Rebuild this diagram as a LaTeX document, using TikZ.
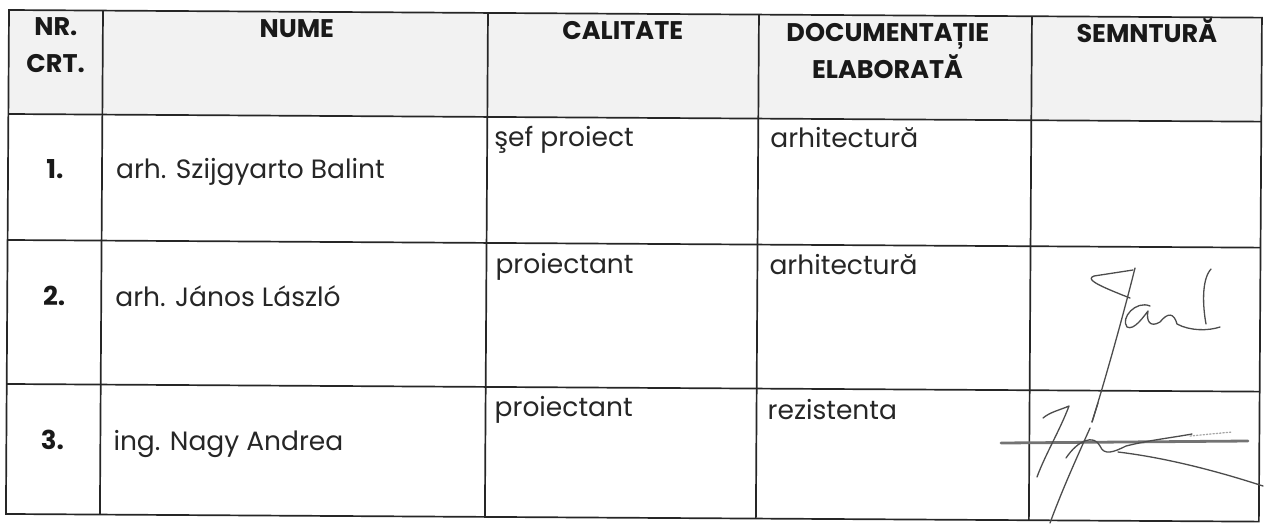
\documentclass[tikz,border=0pt]{standalone}
\usepackage{fontspec}
\setmainfont{Poppins}
\begin{document}
\begin{tikzpicture}[x=1pt,y=-1pt,
  grid/.style={line width=1.7pt, draw=black!85},
  hdr/.style={font=\bfseries\fontsize{25.5}{30}\selectfont, anchor=base, inner sep=0pt, text=black!90},
  cell/.style={font=\fontsize{26.5}{31}\selectfont, anchor=base west, inner sep=0pt, text=black!85},
  num/.style={font=\bfseries\fontsize{26}{31}\selectfont, anchor=base, inner sep=0pt, text=black!90},
  sig/.style={draw=black!70, line width=1.3pt, line cap=round, line join=round},
  strike/.style={draw=black!55, line width=2.8pt, line cap=round}]
\useasboundingbox (0,0) rectangle (1265,523);
\begin{scope}[rotate around={-0.35:(9,10)}]
  \fill[black!5] (9,10) rectangle (1262,114);
  \draw[grid] (9,10) rectangle (1262,514);
  \foreach \y in {114,240,384} \draw[grid] (9,\y) -- (1262,\y);
  \foreach \x in {103,488,759,1032} \draw[grid] (\x,10) -- (\x,514);
  % header
  \node[hdr] (hnr) at (56,35) {NR.};
  \node[hdr] (hcrt) at (56,72) {CRT.};
  \node[hdr] (hnume) at (297,36) {NUME};
  \node[hdr] (hcal) at (623,36) {CALITATE};
  \node[hdr] (hdoc) at (888,36) {DOCUMENTAȚIE};
  \node[hdr] (helab) at (888,73) {ELABORATĂ};
  \node[hdr] (hsemn) at (1147,36) {SEMNTURĂ};
  % rows
  \node[num] (n1) at (56,178) {1.};
  \node[num] (n2) at (56,305) {2.};
  \node[num] (n3) at (55,449) {3.};
  \node[cell] (nm1) at (117,178) {arh. Szijgyarto Balint};
  \node[cell] (nm2) at (117,306) {arh. János László};
  \node[cell] (nm3) at (116,450) {ing. Nagy Andrea};
  \node[cell] (c1) at (495,144) {şef proiect};
  \node[cell] (c2) at (497,271) {proiectant};
  \node[cell] (c3) at (497,414) {proiectant};
  \node[cell] (d1) at (771,143) {arhitectură};
  \node[cell] (d2) at (771,270) {arhitectură};
  \node[cell] (d3) at (770,415) {rezistenta};
\end{scope}
% signature row 2
\draw[sig] (1133,270) -- (1094,276) .. controls (1086,279) and (1094,284) .. (1130,298);
\draw[sig] (1135,268) .. controls (1122,320) and (1105,380) .. (1092,422);
\draw[sig] (1098,403) -- (1092,422);
\draw[sig] (1150,306) .. controls (1136,300) and (1120,318) .. (1127,327)
  .. controls (1134,331) and (1144,316) .. (1148,311)
  .. controls (1146,321) and (1150,328) .. (1160,322)
  .. controls (1168,312) and (1174,313) .. (1177,324)
  .. controls (1190,331) and (1208,331) .. (1220,327);
\draw[sig] (1211,269) .. controls (1201,280) and (1203,308) .. (1206,324);
% signature row 3
\draw[strike] (1001,443) -- (1248,441);
\draw[sig] (1043,418) .. controls (1050,412) and (1060,410) .. (1069,406)
  .. controls (1060,430) and (1045,455) .. (1037,477);
\draw[sig] (1090,428) .. controls (1078,455) and (1062,490) .. (1050,523);
\draw[sig] (1066,458) .. controls (1078,440) and (1094,434) .. (1100,446)
  .. controls (1104,456) and (1114,452) .. (1126,446)
  .. controls (1150,440) and (1170,438) .. (1192,434);
\draw[sig] (1118,452) .. controls (1168,458) and (1220,472) .. (1263,486);
\draw[sig, black!35, dotted] (1190,436) -- (1232,432);
\end{tikzpicture}
\end{document}
